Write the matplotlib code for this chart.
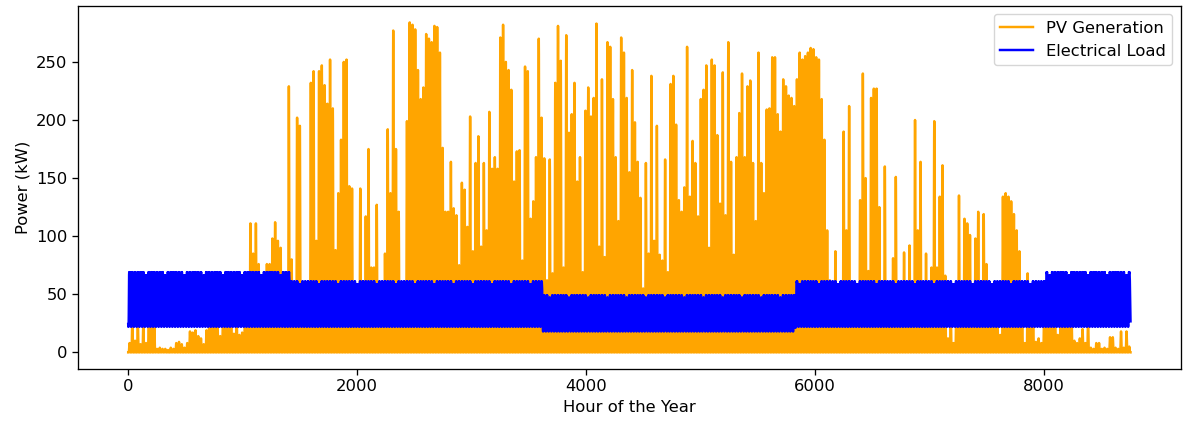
import numpy as np
import matplotlib
matplotlib.use("Agg")
import matplotlib.pyplot as plt

# daily PV peak output (kW), one list per month
pv_peak_jan = [8, 30, 10, 28, 7, 26, 8, 30, 35, 25, 3, 4, 3, 3, 2, 4, 3, 8, 9, 7,
               4, 8, 18, 17, 19, 14, 12, 7, 19, 30, 25]
pv_peak_feb = [35, 28, 14, 30, 35, 28, 40, 16, 30, 15, 17, 35, 40, 111, 85, 111, 76, 65, 50, 76,
               76, 98, 112, 96, 90, 50, 60, 229]
pv_peak_mar = [80, 40, 202, 195, 40, 45, 35, 232, 242, 96, 242, 247, 230, 214, 252, 210, 88, 137, 183, 250,
               252, 143, 141, 40, 30, 141, 50, 117, 175, 73, 73]
pv_peak_apr = [127, 45, 40, 85, 192, 137, 277, 175, 121, 45, 50, 199, 284, 282, 278, 243, 218, 228, 274, 270,
               267, 281, 280, 258, 176, 121, 121, 164, 124, 118]
pv_peak_may = [75, 146, 140, 108, 203, 87, 163, 186, 91, 163, 105, 207, 158, 168, 158, 271, 282, 250, 243, 226,
               147, 173, 174, 79, 246, 242, 115, 130, 168, 270, 202]
pv_peak_jun = [167, 62, 166, 68, 232, 281, 251, 73, 273, 189, 205, 232, 147, 168, 69, 208, 228, 203, 219, 283,
               91, 235, 82, 267, 263, 218, 168, 113, 271, 258]
pv_peak_jul = [219, 155, 243, 198, 164, 133, 55, 163, 85, 238, 96, 195, 84, 79, 166, 69, 231, 238, 196, 131,
               121, 142, 263, 134, 182, 163, 117, 218, 226, 247, 90]
pv_peak_aug = [252, 247, 187, 128, 241, 118, 267, 164, 84, 168, 206, 240, 168, 229, 234, 163, 113, 258, 163, 137,
               209, 210, 254, 254, 205, 190, 235, 229, 221, 219, 212]
pv_peak_sep = [235, 258, 252, 255, 258, 262, 261, 254, 252, 218, 183, 105, 62, 45, 87, 40, 45, 190, 105, 212,
               40, 35, 45, 131, 240, 150, 70, 219, 227, 227]
pv_peak_oct = [125, 40, 160, 35, 45, 81, 151, 45, 30, 86, 40, 92, 45, 200, 105, 164, 40, 85, 45, 73,
               199, 73, 134, 161, 66, 12, 40, 8, 35, 135, 45]
pv_peak_nov = [115, 111, 101, 50, 98, 121, 45, 119, 76, 40, 35, 45, 30, 15, 134, 137, 134, 130, 119, 105,
               87, 30, 8, 68, 35, 30, 9, 12, 8, 35]
pv_peak_dec = [40, 30, 35, 38, 15, 30, 35, 28, 40, 30, 10, 8, 12, 20, 8, 30, 4, 3, 8, 8,
               3, 4, 3, 13, 13, 4, 3, 18, 4, 18, 5]

# share of the daily peak produced in each hour of the day
pv_hour_shape = [0, 0, 0, 0, 0, 0, 0.03, 0.15, 0.35, 0.58, 0.78, 0.93,
                 1.0, 0.95, 0.82, 0.62, 0.40, 0.18, 0.04, 0, 0, 0, 0, 0]

# electrical load: monthly night minimum and daytime maximum (kW)
load_low = [22, 22, 22, 22, 22, 18, 18, 18, 22, 22, 22, 22]
load_high = [69, 69, 61, 61, 61, 49, 49, 49, 61, 61, 61, 69]
load_hour_shape = [0.05, 0, 0, 0, 0.05, 0.2, 0.5, 0.8, 0.95, 1, 1, 1,
                   0.98, 1, 1, 0.95, 0.9, 0.85, 0.75, 0.6, 0.45, 0.3, 0.2, 0.1]
weekday_scale = [1, 1, 1, 1, 1, 1, 0.96]

days_in_month = [31, 28, 31, 30, 31, 30, 31, 31, 30, 31, 30, 31]

pv_peaks = np.array(pv_peak_jan + pv_peak_feb + pv_peak_mar + pv_peak_apr + pv_peak_may + pv_peak_jun +
                    pv_peak_jul + pv_peak_aug + pv_peak_sep + pv_peak_oct + pv_peak_nov + pv_peak_dec, dtype=float)
pv = np.outer(pv_peaks, pv_hour_shape).ravel()

month_of_day = np.repeat(np.arange(12), days_in_month)
lo = np.array(load_low, dtype=float)[month_of_day]
hi = np.array(load_high, dtype=float)[month_of_day] * np.array(weekday_scale)[np.arange(365) % 7]
load = (lo[:, None] + (hi - lo)[:, None] * np.array(load_hour_shape)[None, :]).ravel()

hours = np.arange(len(pv))

# everything a bit larger than the defaults
k = 1.18
plt.rcParams.update({
    "font.size": 10 * k,
    "lines.linewidth": 1.5 * k,
    "axes.linewidth": 0.8 * k,
    "xtick.major.size": 3.5 * k,
    "ytick.major.size": 3.5 * k,
    "xtick.major.width": 0.8 * k,
    "ytick.major.width": 0.8 * k,
})

fig = plt.figure(figsize=(11.83, 4.23), dpi=100)
ax = fig.add_axes([0.066, 0.128, 0.932, 0.858])
ax.plot(hours, pv, color="orange", label="PV Generation")
ax.plot(hours, load, color="blue", label="Electrical Load")
ax.set_xlabel("Hour of the Year")
ax.set_ylabel("Power (kW)")
ax.legend(loc="upper right")
fig.savefig("out.png", dpi=100)
